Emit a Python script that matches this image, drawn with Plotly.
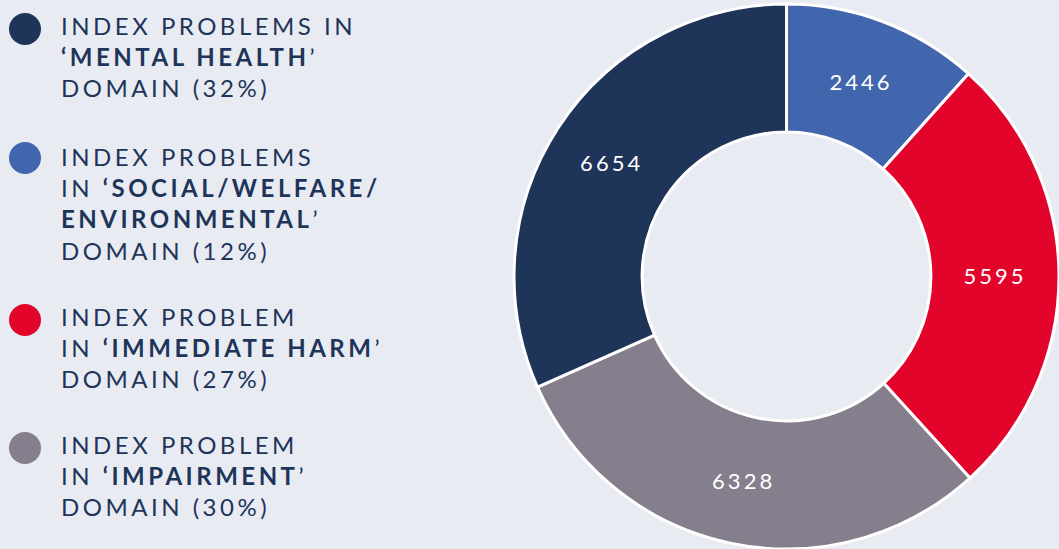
import plotly.graph_objects as go

# ---- data (legend order) ----
categories = ["Mental health", "Social/welfare/environmental", "Immediate harm", "Impairment"]
values = [6654, 2446, 5595, 6328]
colors = ["#1e3459", "#4166ad", "#e3042b", "#857e8d"]
legend_templates = [
    "INDEX PROBLEMS IN<br><b>‘MENTAL HEALTH</b>’<br>DOMAIN ({p}%)",
    "INDEX PROBLEMS<br>IN <b>‘SOCIAL/WELFARE/</b><br><b>ENVIRONMENTAL</b>’<br>DOMAIN ({p}%)",
    "INDEX PROBLEM<br>IN <b>‘IMMEDIATE HARM</b>’<br>DOMAIN ({p}%)",
    "INDEX PROBLEM<br>IN <b>‘IMPAIRMENT</b>’<br>DOMAIN ({p}%)",
]
# clockwise drawing order starting at 12 o'clock
pie_order = [1, 2, 3, 0]

W, H = 1059, 549
TOP = 4
BG = "#e8ebf2"
TXT = "#1e3459"
FONT = "Lato"

total = sum(values)
pcts = [round(v / total * 100) for v in values]


def py(p):
    """pixel row -> paper y (plot area spans rows TOP..H)"""
    return 1 - (p - TOP) / (H - TOP)


fig = go.Figure()
fig.add_trace(go.Pie(
    labels=[categories[i] for i in pie_order],
    values=[values[i] for i in pie_order],
    marker=dict(colors=[colors[i] for i in pie_order], line=dict(color="white", width=3)),
    hole=0.53,
    sort=False,
    direction="clockwise",
    rotation=0,
    textinfo="value",
    texttemplate="%{value}",
    textposition="inside",
    insidetextorientation="horizontal",
    insidetextfont=dict(family=FONT, size=22, color="white"),
    domain=dict(x=[0.4854, 1.0], y=[0.0, 1.0]),
    showlegend=False,
    hoverinfo="label+value+percent",
))

# custom legend
circle_y = [29, 158, 320, 448]
text_center_y = [56.5, 203, 347.5, 475.5]
for i in range(len(categories)):
    fig.add_shape(
        type="circle", xref="paper", yref="paper",
        xsizemode="pixel", ysizemode="pixel",
        xanchor=25 / W, yanchor=py(circle_y[i]),
        x0=-16, x1=16, y0=-16, y1=16,
        fillcolor=colors[i], line=dict(width=0),
    )
    fig.add_annotation(
        x=59 / W, y=py(text_center_y[i]), xref="paper", yref="paper",
        xanchor="left", yanchor="middle", align="left",
        text=legend_templates[i].format(p=pcts[i]),
        showarrow=False,
        font=dict(family=FONT, size=24, color=TXT),
    )

fig.update_layout(
    width=W, height=H,
    margin=dict(l=0, r=0, t=TOP, b=0),
    paper_bgcolor=BG, plot_bgcolor=BG,
    showlegend=False,
)

post = """
document.body.style.margin='0';
document.body.style.background='%s';
var gd = document.getElementById('{plot_id}');
gd.querySelectorAll('.annotation-text').forEach(function(t){t.style.letterSpacing='3.5px';});
gd.querySelectorAll('g.slicetext text').forEach(function(t){t.style.letterSpacing='3px';});
""" % BG
fig.write_html("out.html", post_script=post, config={"displayModeBar": False})
